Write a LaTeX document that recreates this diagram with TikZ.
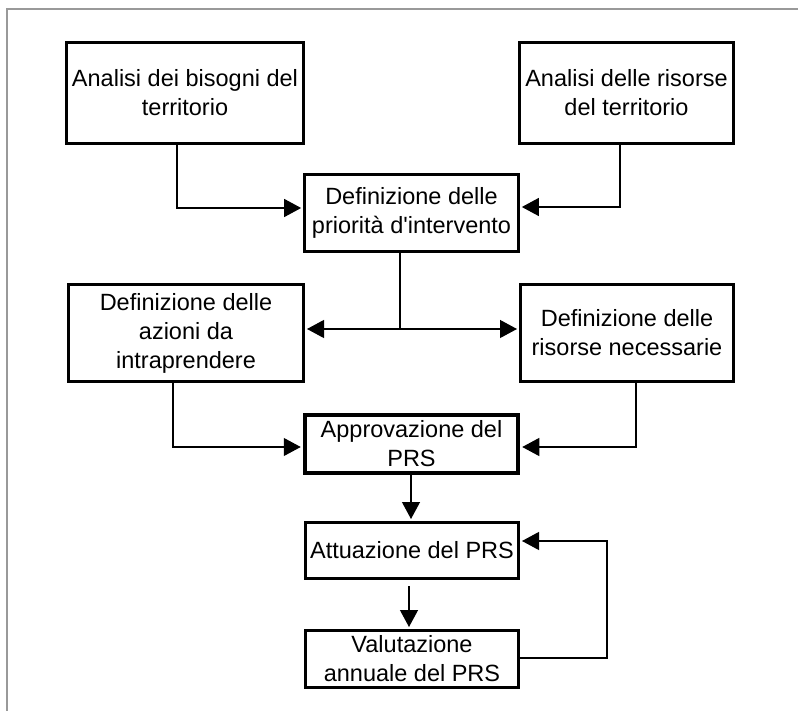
\documentclass[tikz,border=0pt]{standalone}
\usepackage{fontspec}
\setmainfont{Liberation Sans}
\usetikzlibrary{arrows.meta,calc}
\begin{document}
\begin{tikzpicture}[x=1pt,y=-1pt,
  box/.style={draw,line width=3pt,inner sep=0pt,align=center,
    font=\fontsize{23.5}{29}\selectfont},
  conn/.style={line width=1.2pt},
  arr/.style={conn,-{Triangle[length=17pt,width=18pt]},shorten >=2pt}]
\useasboundingbox (0,0) rectangle (798,711);
\draw[gray!80,line width=1.6pt] (7,711) -- (7,9) -- (798,9);
\node[box,minimum width=237pt,minimum height=101pt] (b1) at (185,93) {Analisi dei bisogni del\\territorio};
\node[box,minimum width=214pt,minimum height=101pt] (b2) at (626.5,93) {Analisi delle risorse\\del territorio};
\node[box,line width=2.7pt,minimum width=214pt,minimum height=77pt] (b3) at (411.5,213) {Definizione delle\\priorità d\textquotesingle intervento};
\node[box,minimum width=235pt,minimum height=97pt] (b4) at (186,333) {Definizione delle\\azioni da\\intraprendere};
\node[box,minimum width=213pt,minimum height=97pt] (b5) at (627,333) {Definizione delle\\risorse necessarie};
\node[box,line width=4.5pt,minimum width=213pt,minimum height=58pt] (b6) at (411.5,444) {Approvazione del\\PRS};
\node[box,minimum width=213pt,minimum height=56pt] (b7) at (412,550.5) {Attuazione del PRS};
\node[box,minimum width=213pt,minimum height=57pt] (b8) at (412,659) {Valutazione\\annuale del PRS};
% connectors
\draw[arr] ([xshift=-8pt]b1.south) |- ([yshift=5pt]b3.west);
\draw[arr] ([xshift=-6.5pt]b2.south) |- ([yshift=6pt]b3.east);
\draw[arr] ([xshift=-11.5pt]b3.south) |- ([yshift=4pt]b4.east);
\draw[arr] ([xshift=-11.5pt]b3.south) |- ([yshift=4pt]b5.west);
\draw[arr] ([xshift=-13pt]b4.south) |- ([yshift=-3pt]b6.west);
\draw[arr] ([xshift=9pt]b5.south) |- ([yshift=-3pt]b6.east);
\draw[arr] ([xshift=-0.5pt]b6.south) -- ([xshift=-1pt]b7.north);
\draw[arr,shorten <=6pt] ([xshift=-3pt]b7.south) -- ([xshift=-3pt]b8.north);
\draw[arr] ([yshift=1pt]b8.east) -- ++(87pt,0) |- ([yshift=9.5pt]b7.east);
\end{tikzpicture}
\end{document}
